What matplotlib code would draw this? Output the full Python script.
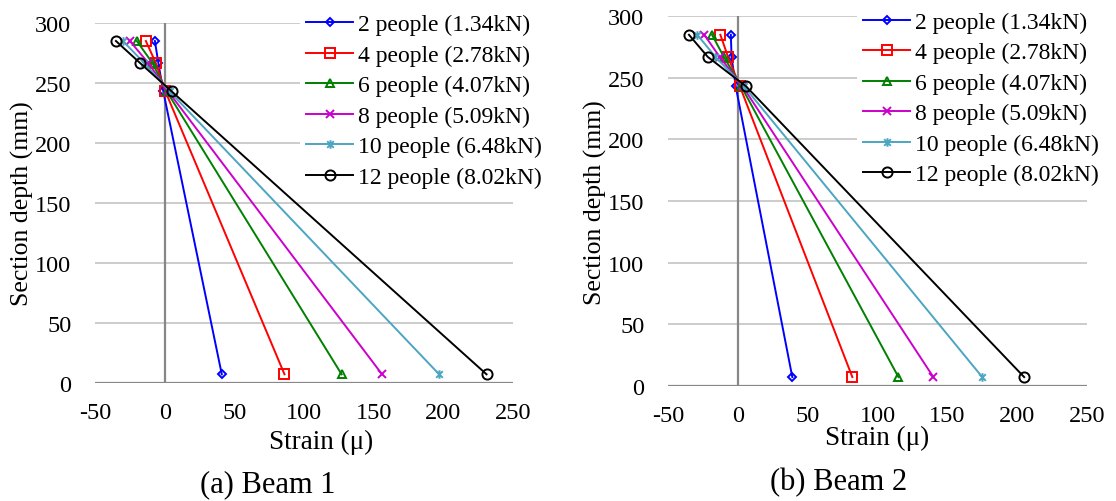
import matplotlib
matplotlib.use("Agg")
import matplotlib.pyplot as plt
from matplotlib.path import Path

plt.rcParams['font.family'] = ['Liberation Serif', 'DejaVu Serif']
plt.rcParams['axes.unicode_minus'] = False

# Measured strain profiles across the section depth
depth_mm = [285, 267, 243, 7]

series_labels = ["2 people (1.34kN)", "4 people (2.78kN)", "6 people (4.07kN)",
                 "8 people (5.09kN)", "10 people (6.48kN)", "12 people (8.02kN)"]

beam1_strain = [
    [-7, -4.6, -1, 41],
    [-13.5, -6.5, 0.5, 86],
    [-20, -9, 1.5, 127],
    [-25, -12, 2.5, 156],
    [-30, -15, 3.5, 197],
    [-35, -18, 5, 231],
]

beam2_strain = [
    [-5, -4.5, -1.5, 39],
    [-12.5, -7, 1.5, 82],
    [-18.5, -10, 2.5, 115],
    [-24, -13, 3.5, 140],
    [-29, -16, 4.5, 175],
    [-35, -21.5, 6, 205],
]

x_ticks = [-50, 0, 50, 100, 150, 200, 250]
y_ticks = [0, 50, 100, 150, 200, 250, 300]
captions = ["(a) Beam 1", "(b) Beam 2"]

# Asterisk marker: an "x" crossed by a vertical bar
star_marker = Path(
    [(-1, -1), (1, 1), (-1, 1), (1, -1), (0, -1.3), (0, 1.3)],
    [Path.MOVETO, Path.LINETO, Path.MOVETO, Path.LINETO, Path.MOVETO, Path.LINETO],
)

styles = [
    dict(color="#0000FF", marker="D", ms=4.5),
    dict(color="#FF0000", marker="s", ms=7.8),
    dict(color="#008000", marker="^", ms=5.8),
    dict(color="#CC00CC", marker="x", ms=5.8),
    dict(color="#4BA5C3", marker=star_marker, ms=6.2),
    dict(color="#000000", marker="o", ms=7.3),
]

W, H = 1116, 502
fig = plt.figure(figsize=(W / 100, H / 100), dpi=100)


def px_rect(x0, y0, x1, y1):
    return [x0 / W, 1 - y1 / H, (x1 - x0) / W, (y1 - y0) / H]


panels = [
    dict(rect=px_rect(95, 24, 513, 383.7), data=beam1_strain,
         legend_xy=(300, 9), ylabel_xy=(22, 204), xlabel_xy=(321, 442), cap_xy=(268, 485)),
    dict(rect=px_rect(668, 17.3, 1087, 386.7), data=beam2_strain,
         legend_xy=(857, 6.5), ylabel_xy=(595, 203), xlabel_xy=(877, 438), cap_xy=(839, 483)),
]

grid_c = "#c8c8c8"
axis_c = "#878787"

for i, p in enumerate(panels):
    ax = fig.add_axes(p["rect"])
    ax.set_xlim(-50, 250)
    ax.set_ylim(0, 300)
    ax.set_xticks(x_ticks)
    ax.set_yticks(y_ticks)
    ax.tick_params(length=0, labelsize=17.5, pad=14)
    ax.tick_params(axis="y", pad=17)
    for s in ax.spines.values():
        s.set_visible(False)
    for yv in y_ticks[1:]:
        ax.axhline(yv, color=grid_c, lw=1.3, zorder=0)
    ax.axhline(0, color=axis_c, lw=1.6, zorder=1)
    ax.axvline(0, color=axis_c, lw=1.6, zorder=1)

    handles = []
    for vals, lab, st in zip(p["data"], series_labels, styles):
        h, = ax.plot(vals, depth_mm, color=st["color"], lw=1.4, marker=st["marker"],
                     ms=st["ms"], mfc="none", mec=st["color"], mew=1.4,
                     label=lab, zorder=3, clip_on=False)
        handles.append(h)

    lx, ly = p["legend_xy"]
    leg = fig.legend(handles=handles, loc="upper left",
                     bbox_to_anchor=(lx / W, 1 - ly / H),
                     fontsize=17, frameon=True, facecolor="white", edgecolor="none",
                     framealpha=1, borderpad=0.25, borderaxespad=0,
                     handlelength=2.0, handletextpad=0.2, labelspacing=0.38)
    leg.set_zorder(5)

    fig.text(p["ylabel_xy"][0] / W, 1 - p["ylabel_xy"][1] / H, "Section depth (mm)",
             rotation=90, ha="center", va="center", fontsize=18.5)
    fig.text(p["xlabel_xy"][0] / W, 1 - p["xlabel_xy"][1] / H, "Strain (\u03bc)",
             ha="center", va="center", fontsize=19.5)
    fig.text(p["cap_xy"][0] / W, 1 - p["cap_xy"][1] / H, captions[i],
             ha="center", va="center", fontsize=22)

fig.savefig("out.png", dpi=100, facecolor="white")
